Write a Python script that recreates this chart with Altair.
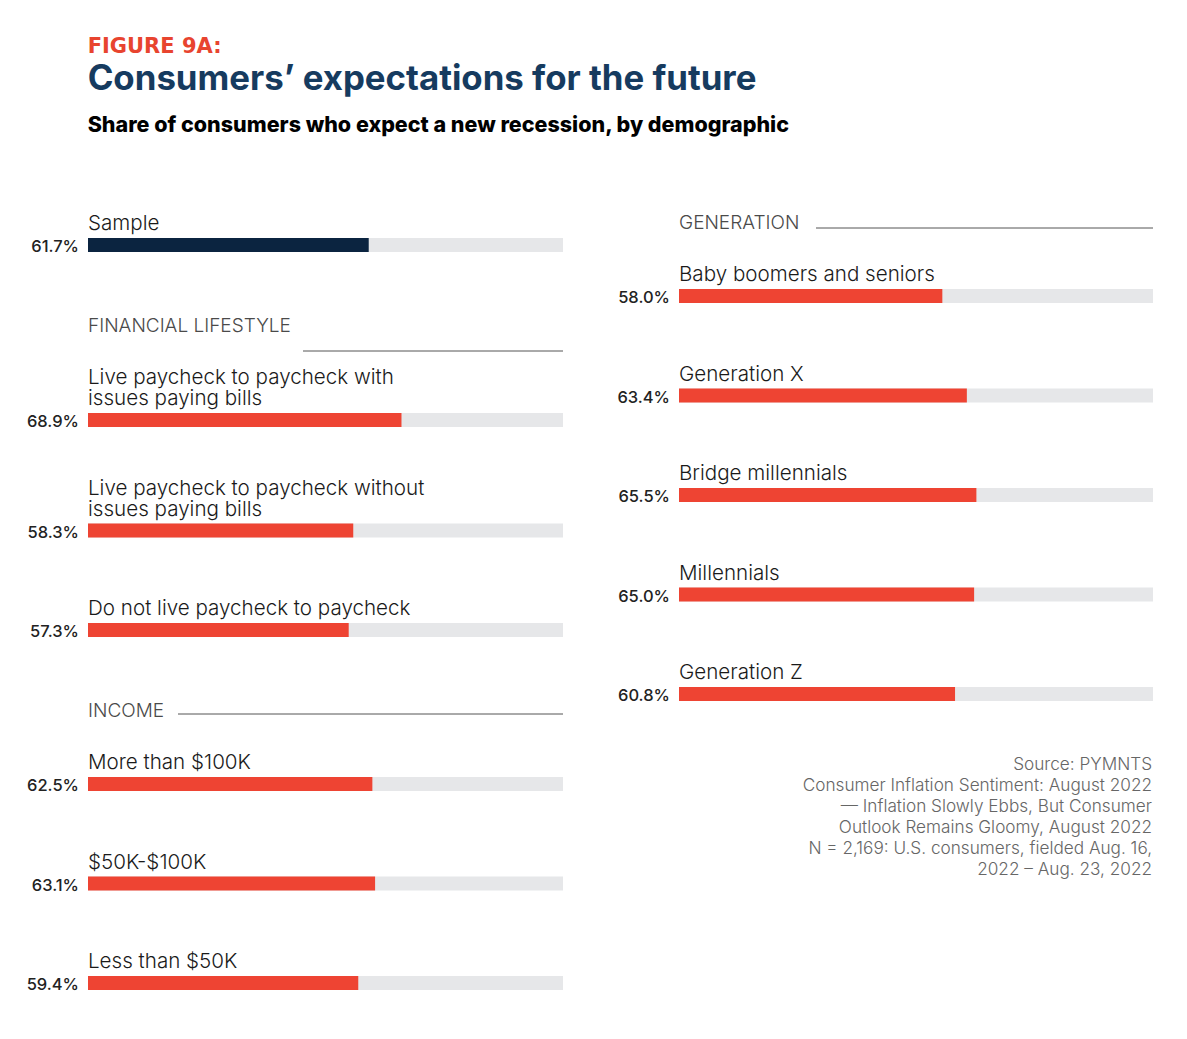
import altair as alt
import pandas as pd

# ---------------- data ----------------
left_labels = [
    "Sample",
    "FINANCIAL LIFESTYLE",
    "Live paycheck to paycheck with\nissues paying bills",
    "Live paycheck to paycheck without\nissues paying bills",
    "Do not live paycheck to paycheck",
    "INCOME",
    "More than $100K",
    "$50K-$100K",
    "Less than $50K",
]
left_values = [61.7, None, 68.9, 58.3, 57.3, None, 62.5, 63.1, 59.4]
left_kind = ["total", "header", "bar", "bar", "bar", "header", "bar", "bar", "bar"]

right_labels = [
    "GENERATION",
    "Baby boomers and seniors",
    "Generation X",
    "Bridge millennials",
    "Millennials",
    "Generation Z",
]
right_values = [None, 58.0, 63.4, 65.5, 65.0, 60.8]
right_kind = ["header", "bar", "bar", "bar", "bar", "bar"]

source_lines = [
    "Source: PYMNTS",
    "Consumer Inflation Sentiment: August 2022",
    "— Inflation Slowly Ebbs, But Consumer",
    "Outlook Remains Gloomy, August 2022",
    "N = 2,169: U.S. consumers, fielded Aug. 16,",
    "2022 – Aug. 23, 2022",
]

fig_label = "FIGURE 9A:"
title_text = "Consumers’ expectations for the future"
subtitle_text = "Share of consumers who expect a new recession, by demographic"

# ---------------- style / layout ----------------
RED = "#ee4433"
NAVY = "#0b2440"
TRACK = "#e6e7e9"
TITLE_NAVY = "#163b5f"
FONT = "Inter"
X_MAX = 104.4
W_LEFT, W_RIGHT, H = 475, 474, 800
# header rule: start (px from plot left) and vertical offset from header baseline
HEADER_RULE = {
    "FINANCIAL LIFESTYLE": (215, 19),
    "INCOME": (90, -3),
    "GENERATION": (137, -1),
}


def layout(labels, values, kinds):
    rows = []
    pos = None
    prev = None
    for lab, val, kind in zip(labels, values, kinds):
        n = lab.count("\n") + 1
        if kind == "header":
            pos = 28 if prev is None else pos + 87
        else:
            if prev is None:
                pos = 44
            elif prev == "header":
                pos = pos + 67 + 21 * (n - 1)
            else:
                pos = pos + 99.5 + 11 * (n - 1)
        rows.append(dict(label=lab, value=val, kind=kind, pos=pos, lines=n))
        prev = kind
    return pd.DataFrame(rows)


def column(labels, values, kinds, width, with_source=False):
    df = layout(labels, values, kinds)
    bars = df[df.kind != "header"].copy()
    bars["pct"] = bars["value"].map(lambda v: f"{v:.1f}%")
    bars["label_pos"] = bars["pos"] - 15 - 21 * (bars["lines"] - 1)
    heads = df[df.kind == "header"].copy()
    heads["rule_x"] = heads["label"].map(lambda s: HEADER_RULE[s][0])
    heads["rule_pos"] = heads.apply(lambda r: r["pos"] + HEADER_RULE[r["label"]][1], axis=1)

    yscale = alt.Scale(domain=[0, H], reverse=True, nice=False, zero=False)
    xscale = alt.Scale(domain=[0, X_MAX], nice=False, zero=True)
    y = alt.Y("pos:Q", scale=yscale, axis=None)

    base_b = alt.Chart(bars)
    track = base_b.mark_rule(strokeWidth=14, color=TRACK, strokeCap="butt").encode(
        x=alt.value(0), x2=alt.value(width), y=y
    )
    fill = base_b.mark_rule(strokeWidth=14, strokeCap="butt").encode(
        x=alt.X("value:Q", scale=xscale, axis=None),
        x2=alt.datum(0),
        y=y,
        color=alt.Color(
            "kind:N",
            scale=alt.Scale(domain=["total", "bar"], range=[NAVY, RED]),
            legend=None,
        ),
    )
    pct = base_b.mark_text(
        align="right", baseline="middle", dx=-9, dy=2, font=FONT, fontSize=16.5,
        fontWeight=500, color="#222222",
    ).encode(x=alt.value(0), y=y, text="pct:N")
    lab = base_b.mark_text(
        align="left", baseline="alphabetic", lineBreak="\n", lineHeight=21, font=FONT,
        fontSize=20.6, fontWeight=300, color="#1a1a1a",
    ).encode(x=alt.value(0), y=alt.Y("label_pos:Q", scale=yscale, axis=None), text="label:N")

    base_h = alt.Chart(heads)
    htext = base_h.mark_text(
        align="left", baseline="alphabetic", font=FONT, fontSize=19, fontWeight=300,
        color="#4a4a4a",
    ).encode(x=alt.value(0), y=y, text="label:N")
    hrule = base_h.mark_rule(color="#555555", strokeWidth=1).encode(
        x=alt.X("rule_x:Q", scale=None), x2=alt.value(width),
        y=alt.Y("rule_pos:Q", scale=yscale, axis=None),
    )
    layers = [track, fill, pct, lab, htext, hrule]
    if with_source:
        last = df["pos"].max()
        src = pd.DataFrame({"pos": [last + 76]})
        stext = alt.Chart(src).mark_text(
            align="right", baseline="alphabetic", text=source_lines, lineHeight=21,
            font=FONT, fontSize=17.2, fontWeight=300, color="#666666",
        ).encode(x=alt.value(width - 1), y=y)
        layers.append(stext)
    return alt.layer(*layers).properties(width=width, height=H)


left = column(left_labels, left_values, left_kind, W_LEFT)
right = column(right_labels, right_values, right_kind, W_RIGHT, with_source=True)

inner = alt.hconcat(left, right, spacing=47).properties(
    title=alt.TitleParams(
        text=title_text,
        subtitle=subtitle_text,
        anchor="start",
        dx=61,
        font=FONT,
        fontSize=34.8,
        fontWeight=700,
        color=TITLE_NAVY,
        subtitleFont=FONT,
        subtitleFontSize=21.5,
        subtitleFontWeight=800,
        subtitleColor="#000000",
        subtitlePadding=17,
        offset=64,
    )
)

chart = (
    alt.vconcat(inner)
    .properties(
        title=alt.TitleParams(
            text=fig_label,
            anchor="start",
            dx=61,
            font="DejaVu Sans",
            fontSize=21,
            fontWeight="bold",
            color="#e8442f",
            offset=5,
        ),
        padding={"left": 26, "top": 35, "right": 5, "bottom": 5},
        background="white",
    )
    .configure_view(stroke=None)
)

chart.save("out.html", embed_options={"renderer": "svg", "actions": False})
